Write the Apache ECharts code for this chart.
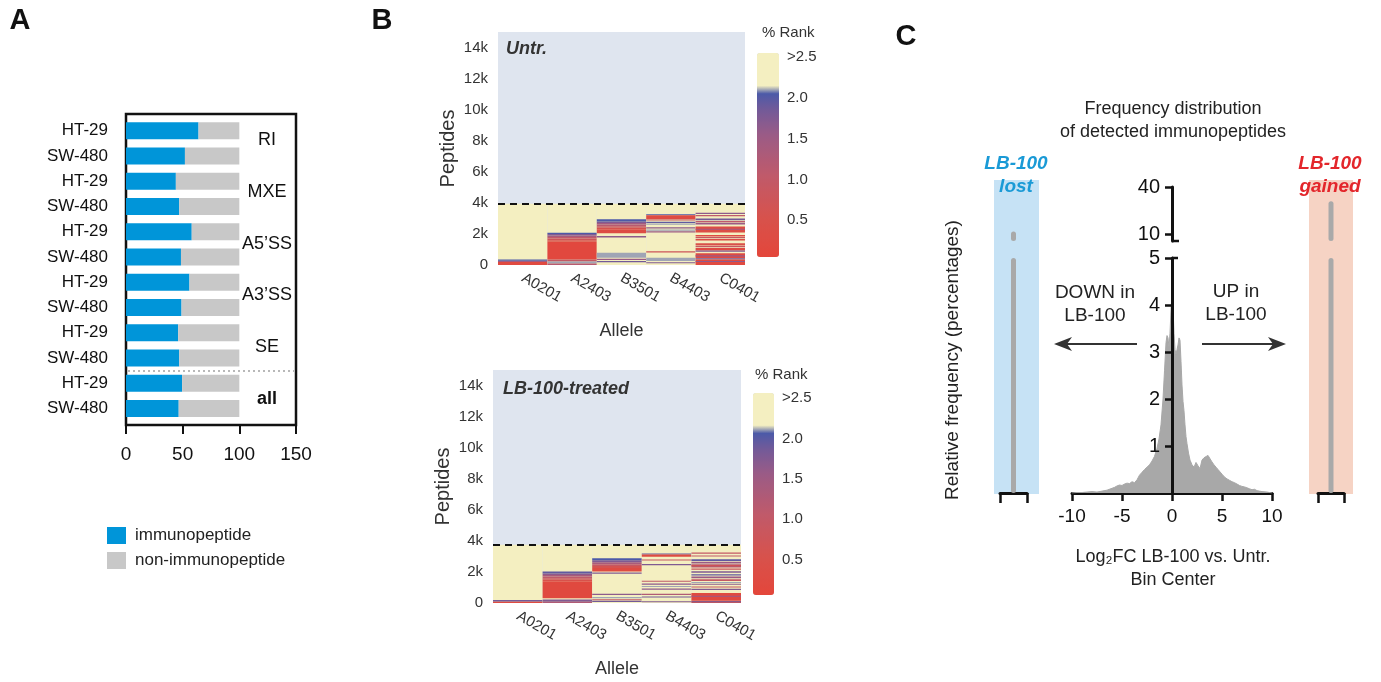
<!DOCTYPE html>
<html>
<head>
<meta charset="utf-8">
<title>Immunopeptidome figure</title>
<script src="https://cdn.jsdelivr.net/npm/echarts@6.0.0/dist/echarts.min.js"></script>
<style>
  html, body { margin: 0; padding: 0; background: #fff; }
  #main { width: 1381px; height: 682px; }
</style>
</head>
<body>
<div id="main"></div>
<script>
// ---- panel A: share of immunopeptides per splicing event type (%)
var rowLabels = ['HT-29', 'SW-480', 'HT-29', 'SW-480', 'HT-29', 'SW-480',
                 'HT-29', 'SW-480', 'HT-29', 'SW-480', 'HT-29', 'SW-480'];
var groupLabels = ['RI', 'MXE', 'A5\u2019SS', 'A3\u2019SS', 'SE', 'all'];
var immunoPct = [64, 52, 44, 47, 58, 48.5, 56, 49, 46, 47, 49.5, 46.5];
var nonImmunoPct = [36, 48, 56, 53, 42, 51.5, 44, 51, 54, 53, 50.5, 53.5];

// ---- panel B: peptides per allele, bands of [from, to, %rank]
var alleles = ['A0201', 'A2403', 'B3501', 'B4403', 'C0401'];
var untrTotal = 3950;
var lbTotal = 3750;

var untrA0201 = [[0, 200, 0.15], [200, 280, 1.4], [280, 350, 2.0]];
var untrA2403 = [[350, 1500, 0.1], [1500, 1600, 0.4], [1600, 1700, 0.7], [1700, 1800, 1.0],
                 [1800, 1900, 1.35], [1900, 2000, 1.7], [2000, 2080, 2.0], [220, 350, 0.9],
                 [90, 220, 2.05], [0, 90, 1.1]];
var untrB3501 = [[2050, 2300, 0.25], [2300, 2400, 0.5], [2400, 2500, 0.8], [2500, 2600, 1.1],
                 [2600, 2700, 1.4], [2700, 2800, 1.7], [2800, 2940, 2.0], [1770, 1860, 1.6],
                 [460, 790, 2.05], [320, 410, 1.5], [170, 250, 1.8]];
var untrB4403 = [[3210, 3260, 2.0], [2950, 3210, 0.2], [2860, 2930, 0.9], [2700, 2780, 1.9],
                 [2590, 2670, 2.05], [2350, 2430, 1.6], [2200, 2280, 2.05], [2090, 2170, 1.5],
                 [810, 890, 0.7], [250, 460, 2.05], [110, 180, 1.7]];
var untrC0401 = [[3290, 3370, 1.6], [3140, 3220, 1.0], [2880, 3000, 1.8], [2760, 2840, 1.0],
                 [2600, 2720, 1.5], [2100, 2480, 0.3], [2270, 2340, 1.4], [1830, 1930, 0.2],
                 [1730, 1800, 0.9], [1570, 1680, 0.3], [1260, 1400, 0.4], [1150, 1220, 0.9],
                 [930, 1100, 0.2], [860, 930, 1.7], [440, 760, 0.2], [550, 620, 1.5],
                 [350, 430, 1.8], [0, 350, 0.15], [190, 260, 1.6]];

var lbA0201 = [[0, 100, 0.15], [100, 190, 1.8]];
var lbA2403 = [[300, 1400, 0.12], [1400, 1500, 0.45], [1500, 1600, 0.7], [1600, 1700, 1.0],
               [1700, 1800, 1.3], [1800, 1900, 1.6], [1900, 2020, 1.9], [80, 220, 1.7], [0, 80, 1.2]];
var lbB3501 = [[2020, 2250, 0.2], [2250, 2380, 0.55], [2380, 2500, 0.9], [2500, 2620, 1.3],
               [2620, 2750, 1.7], [2750, 2880, 2.0], [1890, 1970, 1.7], [510, 590, 1.6],
               [300, 380, 2.05], [170, 240, 0.9], [70, 140, 1.8]];
var lbB4403 = [[3120, 3180, 1.9], [2980, 3120, 0.2], [2730, 2800, 0.9], [2430, 2510, 1.7],
               [1360, 1430, 1.0], [1180, 1260, 1.6], [1030, 1100, 2.05], [860, 930, 1.6],
               [520, 590, 1.2], [350, 420, 1.8], [50, 120, 1.7]];
var lbC0401 = [[3170, 3250, 0.9], [2990, 3060, 1.0], [2700, 2820, 1.9], [2540, 2660, 1.5],
               [2280, 2500, 1.2], [2360, 2430, 0.4], [2140, 2220, 0.8], [1940, 2050, 1.7],
               [1770, 1850, 1.9], [1600, 1700, 1.5], [1420, 1530, 0.9], [1280, 1350, 2.05],
               [1170, 1240, 1.6], [1000, 1070, 0.9], [840, 910, 1.7], [150, 650, 0.15],
               [400, 460, 1.5], [0, 150, 0.6], [50, 110, 1.8]];

var rankTicks = [0.5, 1.0, 1.5, 2.0, 2.5];

// ---- panel C: frequency distribution of log2FC
var binCenters = [-10, -9.5, -9, -8.5, -8, -7.5, -7, -6.5, -6,
  -5.75, -5.5, -5.25, -5, -4.75, -4.5, -4.25, -4,
  -3.75, -3.5, -3.25, -3, -2.75, -2.5, -2.25, -2, -1.75, -1.5,
  -1.3, -1.1, -0.9, -0.75, -0.6, -0.5, -0.4, -0.3, -0.2, -0.1,
  0, 0.1, 0.2, 0.3, 0.4, 0.5, 0.6, 0.7, 0.8, 0.9,
  1.0, 1.1, 1.2, 1.3, 1.4, 1.5, 1.65, 1.8,
  2.0, 2.2, 2.4, 2.6, 2.8, 3.0, 3.2, 3.4, 3.6, 3.8,
  4.0, 4.2, 4.4, 4.6, 4.8, 5.0,
  5.25, 5.5, 5.75, 6.0, 6.25, 6.5, 6.75, 7.0, 7.25, 7.5, 7.75, 8.0,
  8.25, 8.5, 8.75, 9.0, 9.5, 10];
var relFreq = [0, 0.01, 0.01, 0.02, 0.03, 0.02, 0.04, 0.06, 0.1,
  0.12, 0.15, 0.17, 0.16, 0.19, 0.21, 0.2, 0.24,
  0.22, 0.28, 0.38, 0.44, 0.5, 0.55, 0.6, 0.68, 0.78, 0.95,
  1.15, 1.45, 2.0, 2.6, 3.2, 3.35, 3.3, 3.1, 3.4, 3.9,
  4.2, 3.95, 3.4, 3.05, 2.95, 3.05, 3.15, 3.3, 3.25, 2.8,
  2.3, 1.95, 1.75, 1.45, 1.2, 1.05, 0.85, 0.7,
  0.6, 0.55, 0.65, 0.58, 0.52, 0.7, 0.75, 0.72, 0.8, 0.78,
  0.66, 0.6, 0.55, 0.5, 0.45, 0.4,
  0.34, 0.3, 0.27, 0.24, 0.22, 0.19, 0.16, 0.14, 0.13, 0.11, 0.09, 0.07,
  0.08, 0.05, 0.04, 0.03, 0.02, 0];
var lostFreq = [12];
var gainedFreq = [31];

var FONT = '"Liberation Sans", Arial, Helvetica, sans-serif';
var INK = '#111';

// colour ramp of the % rank bar, sharp switch to yellow above 2.0
var rankStops = [[0, '#e4463a'], [0.5, '#d6524d'], [1.0, '#c05a6a'], [1.5, '#9a5b86'],
                 [1.8, '#735a98'], [2.0, '#4c5aa8'], [2.1, '#f4efc1'], [2.5, '#f4efc1']];
function hexToRgb(h) {
    return [parseInt(h.substr(1, 2), 16), parseInt(h.substr(3, 2), 16), parseInt(h.substr(5, 2), 16)];
}
function rampColors() {
    var out = [];
    for (var k = 0; k <= 25; k++) {
        var v = k / 10, j = 0;
        while (j < rankStops.length - 2 && v > rankStops[j + 1][0] + 1e-9) j++;
        var a = rankStops[j], b = rankStops[j + 1];
        var t = Math.min(1, Math.max(0, (v - a[0]) / (b[0] - a[0])));
        var ca = hexToRgb(a[1]), cb = hexToRgb(b[1]);
        out.push('rgb(' + ca.map(function (c, n) { return Math.round(c + (cb[n] - c) * t); }).join(',') + ')');
    }
    return out;
}
var rankColors = rampColors();

function stripeData(total, bands) {
    var out = [];
    bands.forEach(function (b, i) {
        out.push([i, 0, total, 2.5]);      // peptides above 2.5 % rank
        b.forEach(function (s) { out.push([i, s[0], s[1], s[2]]); });
    });
    return out;
}

function renderStripe(params, api) {
    var lo = api.coord([api.value(0), api.value(1)]);
    var hi = api.coord([api.value(0), api.value(2)]);
    var w = api.size([1, 0])[0];
    return {
        type: 'rect',
        shape: { x: lo[0] - w / 2, y: hi[1], width: w, height: Math.max(lo[1] - hi[1], 1) },
        style: { fill: api.visual('color') }
    };
}

function txt(x, y, text, size, extra) {
    var st = {
        text: text, fontSize: size, fontFamily: FONT, fill: '#222',
        align: 'center', verticalAlign: 'middle', textAlign: 'center', textVerticalAlign: 'middle'
    };
    for (var k in (extra || {})) st[k] = extra[k];
    return { type: 'text', x: x, y: y, z: 20, style: st };
}
function seg(x1, y1, x2, y2, color, w, dash) {
    var st = { stroke: color, lineWidth: w };
    if (dash) st.lineDash = dash;
    return { type: 'line', z: 20, shape: { x1: x1, y1: y1, x2: x2, y2: y2 }, style: st };
}

var kFormatter = function (v) { return v === 0 ? '0' : (v / 1000) + 'k'; };

function heatAxes(gi) {
    return {
        x: {
            type: 'category', gridIndex: gi, data: alleles,
            axisLine: { show: false }, axisTick: { show: false },
            axisLabel: { rotate: -30, fontSize: 15, color: '#333', margin: 12 },
            name: 'Allele', nameLocation: 'middle', nameGap: 57,
            nameTextStyle: { fontSize: 18, color: '#333' }
        },
        y: {
            type: 'value', gridIndex: gi, min: 0, max: 15000, interval: 2000,
            axisLine: { show: false }, axisTick: { show: false }, splitLine: { show: false },
            axisLabel: { fontSize: 15, color: '#333', margin: 10, formatter: kFormatter, showMaxLabel: false },
            name: 'Peptides', nameLocation: 'middle', nameGap: 40,
            nameTextStyle: { fontSize: 20, color: '#333' }
        }
    };
}
function colorbarAxes(gi) {
    return {
        x: { type: 'value', gridIndex: gi, show: false },
        y: {
            type: 'value', gridIndex: gi, min: 0, max: 2.5, position: 'right',
            axisLine: { show: false }, axisTick: { show: false }, splitLine: { show: false },
            axisLabel: {
                customValues: rankTicks, fontSize: 15, color: '#333', margin: 8,
                formatter: function (v) { return v >= 2.5 ? '>2.5' : v.toFixed(1); }
            }
        }
    };
}
function hidden(gi, extra) {
    var a = { type: 'value', gridIndex: gi, show: false };
    for (var k in (extra || {})) a[k] = extra[k];
    return a;
}
function sideX(gi, name) {
    return {
        type: 'category', gridIndex: gi, data: [name],
        axisLine: { lineStyle: { color: INK, width: 3 } },
        axisTick: { show: true, interval: 0, length: 10, lineStyle: { color: INK, width: 2.5 } },
        axisLabel: { show: false }
    };
}

var hu = heatAxes(2), hl = heatAxes(3), cu = colorbarAxes(4), cl = colorbarAxes(5);

var chart = echarts.init(document.getElementById('main'));
var option = {
    animation: false,
    textStyle: { fontFamily: FONT },
    legend: {
        data: ['immunopeptide', 'non-immunopeptide'],
        orient: 'vertical', left: 107, top: 527, padding: 0,
        itemWidth: 19, itemHeight: 17, itemGap: 8, icon: 'rect',
        textStyle: { fontSize: 17, color: '#222', padding: [0, 0, 0, 4] }
    },
    grid: [
        { left: 126, top: 114, width: 170, height: 311, show: true, borderColor: INK, borderWidth: 2.5, backgroundColor: 'transparent' },
        { left: 126, top: 118, width: 170, height: 303 },
        { left: 498, top: 32, width: 247, height: 233, show: true, backgroundColor: '#dfe5ef', borderWidth: 0 },
        { left: 493, top: 370, width: 248, height: 233, show: true, backgroundColor: '#dfe5ef', borderWidth: 0 },
        { left: 757, top: 57, width: 22, height: 204 },
        { left: 753, top: 398, width: 21, height: 202 },
        { left: 1072, top: 258, width: 200, height: 235 },
        { left: 1172, top: 187, width: 10, height: 54 },
        { left: 1000, top: 258, width: 27, height: 235 },
        { left: 1000, top: 187, width: 27, height: 54 },
        { left: 1318, top: 258, width: 26, height: 235 },
        { left: 1318, top: 187, width: 26, height: 54 }
    ],
    xAxis: [
        {
            type: 'value', gridIndex: 0, min: 0, max: 150, interval: 50,
            axisLine: { show: false }, splitLine: { show: false },
            axisTick: { show: true, length: 9, lineStyle: { color: INK, width: 2 } },
            axisLabel: { fontSize: 19, color: INK, margin: 20 }
        },
        hidden(1, { min: 0, max: 150 }),
        hu.x, hl.x, cu.x, cl.x,
        {
            type: 'value', gridIndex: 6, min: -10, max: 10, interval: 5,
            axisLine: { lineStyle: { color: INK, width: 3 } }, splitLine: { show: false },
            axisTick: { length: 8, lineStyle: { color: INK, width: 2.5 } },
            axisLabel: { fontSize: 19, color: INK, margin: 14 }
        },
        hidden(7, { min: 0, max: 1 }),
        sideX(8, 'lost'),
        { type: 'category', gridIndex: 9, data: ['lost'], show: false },
        sideX(10, 'gained'),
        { type: 'category', gridIndex: 11, data: ['gained'], show: false }
    ],
    yAxis: [
        {
            type: 'category', gridIndex: 0, data: groupLabels, inverse: true, position: 'right',
            axisLine: { show: false }, axisTick: { show: false },
            axisLabel: {
                inside: true, margin: 29, align: 'center', fontSize: 18, color: INK,
                formatter: function (v) { return v === 'all' ? '{b|all}' : v; },
                rich: { b: { fontWeight: 'bold', fontSize: 18, color: INK } }
            }
        },
        {
            type: 'category', gridIndex: 1, data: rowLabels, inverse: true,
            axisLine: { show: false },
            axisTick: { alignWithLabel: true, length: 9, lineStyle: { color: INK, width: 2 } },
            axisLabel: { fontSize: 17, color: INK, margin: 18 }
        },
        hu.y, hl.y, cu.y, cl.y,
        {
            // y axis drawn through x = 0 (half of the 200 px wide grid)
            type: 'value', gridIndex: 6, min: 0, max: 5, interval: 1, z: 5, offset: -100,
            axisLine: { show: true, onZero: false, lineStyle: { color: INK, width: 3 } }, splitLine: { show: false },
            axisTick: { show: true, customValues: [1, 2, 3, 4, 5], length: 7, lineStyle: { color: INK, width: 2.5 } },
            axisLabel: { customValues: [1, 2, 3, 4, 5], fontSize: 20, color: INK, margin: 12 }
        },
        {
            type: 'value', gridIndex: 7, min: 6, max: 40, position: 'left',
            axisLine: { show: true, lineStyle: { color: INK, width: 3 } }, splitLine: { show: false },
            axisTick: { show: true, customValues: [10, 40], length: 7, lineStyle: { color: INK, width: 2.5 } },
            axisLabel: { customValues: [10, 40], fontSize: 20, color: INK, margin: 12 }
        },
        hidden(8, { min: 0, max: 5 }),
        hidden(9, { min: 6, max: 40 }),
        hidden(10, { min: 0, max: 5 }),
        hidden(11, { min: 6, max: 40 })
    ],
    visualMap: [
        {
            type: 'continuous', seriesIndex: 2, dimension: 3, min: 0, max: 2.5,
            inRange: { color: rankColors }, calculable: false, hoverLink: false,
            left: 757, top: 53, itemWidth: 22, itemHeight: 204, padding: 0
        },
        {
            type: 'continuous', seriesIndex: 4, dimension: 3, min: 0, max: 2.5,
            inRange: { color: rankColors }, calculable: false, hoverLink: false,
            left: 753, top: 393, itemWidth: 21, itemHeight: 202, padding: 0
        }
    ],
    series: [
        {
            name: 'immunopeptide', type: 'bar', stack: 'a', xAxisIndex: 1, yAxisIndex: 1,
            barWidth: 17, data: immunoPct, itemStyle: { color: '#0095d9' }
        },
        {
            name: 'non-immunopeptide', type: 'bar', stack: 'a', xAxisIndex: 1, yAxisIndex: 1,
            barWidth: 17, data: nonImmunoPct, itemStyle: { color: '#c8c8c8' }
        },
        {
            type: 'custom', xAxisIndex: 2, yAxisIndex: 2, renderItem: renderStripe,
            encode: { x: 0, y: [1, 2] },
            data: stripeData(untrTotal, [untrA0201, untrA2403, untrB3501, untrB4403, untrC0401])
        },
        {
            type: 'line', xAxisIndex: 2, yAxisIndex: 2, data: [],
            markLine: {
                silent: true, symbol: 'none', label: { show: false },
                lineStyle: { color: INK, type: [7, 5], width: 2 },
                data: [{ yAxis: untrTotal }]
            }
        },
        {
            type: 'custom', xAxisIndex: 3, yAxisIndex: 3, renderItem: renderStripe,
            encode: { x: 0, y: [1, 2] },
            data: stripeData(lbTotal, [lbA0201, lbA2403, lbB3501, lbB4403, lbC0401])
        },
        {
            type: 'line', xAxisIndex: 3, yAxisIndex: 3, data: [],
            markLine: {
                silent: true, symbol: 'none', label: { show: false },
                lineStyle: { color: INK, type: [7, 5], width: 2 },
                data: [{ yAxis: lbTotal }]
            }
        },
        {
            type: 'line', xAxisIndex: 6, yAxisIndex: 6, z: 1, symbol: 'none',
            data: binCenters.map(function (x, i) { return [x, relFreq[i]]; }),
            lineStyle: { color: '#a8a8a8', width: 1 },
            areaStyle: { color: '#a8a8a8', opacity: 1 }
        },
        {
            type: 'bar', xAxisIndex: 8, yAxisIndex: 8, barWidth: 5, data: lostFreq,
            itemStyle: { color: '#a9a9a9', borderRadius: 3 }
        },
        {
            type: 'bar', xAxisIndex: 9, yAxisIndex: 9, barWidth: 5, data: lostFreq,
            itemStyle: { color: '#a9a9a9', borderRadius: 3 }
        },
        {
            type: 'bar', xAxisIndex: 10, yAxisIndex: 10, barWidth: 5, data: gainedFreq,
            itemStyle: { color: '#a9a9a9', borderRadius: 3 }
        },
        {
            type: 'bar', xAxisIndex: 11, yAxisIndex: 11, barWidth: 5, data: gainedFreq,
            itemStyle: { color: '#a9a9a9', borderRadius: 3 }
        }
    ],
    graphic: [
        // panel letters
        txt(20, 21, 'A', 29, { fontWeight: 'bold', fill: INK }),
        txt(382, 21, 'B', 29, { fontWeight: 'bold', fill: INK }),
        txt(906, 37, 'C', 29, { fontWeight: 'bold', fill: INK }),
        // separator between the event types and "all"
        seg(128, 371, 294, 371, '#b8b8b8', 2, [2, 3]),
        // panel B annotations
        txt(506, 49, 'Untr.', 18, { fontWeight: 'bold', fontStyle: 'italic', fill: '#333', align: 'left', textAlign: 'left' }),
        txt(503, 389, 'LB-100-treated', 18, { fontWeight: 'bold', fontStyle: 'italic', fill: '#333', align: 'left', textAlign: 'left' }),
        txt(762, 33, '% Rank', 15, { fill: '#333', align: 'left', textAlign: 'left' }),
        txt(755, 375, '% Rank', 15, { fill: '#333', align: 'left', textAlign: 'left' }),
        // panel C background bands
        { type: 'rect', z: 0, shape: { x: 994, y: 180, width: 45, height: 314 }, style: { fill: '#c6e2f5' } },
        { type: 'rect', z: 0, shape: { x: 1309, y: 180, width: 44, height: 314 }, style: { fill: '#f6d3c4' } },
        // panel C texts
        txt(1173, 109, 'Frequency distribution', 18),
        txt(1173, 132, 'of detected immunopeptides', 18),
        txt(1016, 164, 'LB-100', 19, { fontWeight: 'bold', fontStyle: 'italic', fill: '#1a9ad6' }),
        txt(1016, 187, 'lost', 19, { fontWeight: 'bold', fontStyle: 'italic', fill: '#1a9ad6' }),
        txt(1330, 164, 'LB-100', 19, { fontWeight: 'bold', fontStyle: 'italic', fill: '#e3262b' }),
        txt(1330, 187, 'gained', 19, { fontWeight: 'bold', fontStyle: 'italic', fill: '#e3262b' }),
        txt(1095, 293, 'DOWN in', 19),
        txt(1095, 316, 'LB-100', 19),
        txt(1236, 292, 'UP in', 19),
        txt(1236, 315, 'LB-100', 19),
        txt(1173, 557, 'Log\u2082FC LB-100 vs. Untr.', 18),
        txt(1173, 580, 'Bin Center', 18),
        {
            type: 'text', x: 953, y: 360, rotation: Math.PI / 2, z: 20,
            style: {
                text: 'Relative frequency (percentages)', fontSize: 19, fontFamily: FONT, fill: '#222',
                align: 'center', verticalAlign: 'middle', textAlign: 'center', textVerticalAlign: 'middle'
            }
        },
        // arrows
        seg(1137, 344, 1060, 344, '#333', 2),
        { type: 'polygon', z: 20, shape: { points: [[1054, 344], [1072, 337], [1067, 344], [1072, 351]] }, style: { fill: '#333' } },
        seg(1202, 344, 1280, 344, '#333', 2),
        { type: 'polygon', z: 20, shape: { points: [[1286, 344], [1268, 337], [1273, 344], [1268, 351]] }, style: { fill: '#333' } },
        // axis break caps
        seg(1172, 241, 1179, 241, INK, 2.5),
        seg(1172, 258, 1178, 258, INK, 2.5)
    ]
};
chart.setOption(option);
</script>
</body>
</html>
